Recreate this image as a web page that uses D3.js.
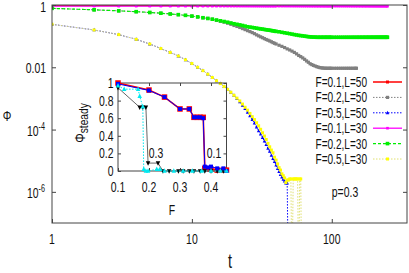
<!DOCTYPE html>
<html>
<head>
<meta charset="utf-8">
<script src="https://cdn.jsdelivr.net/npm/d3@7"></script>
<style>
html, body { margin: 0; padding: 0; background: #fff; }
svg { display: block; font-family: "Liberation Sans", Arial, sans-serif; }
</style>
</head>
<body>
<div id="chart"></div>
<script>
// ---- data ----
// time grids (every step early, sparser later where the points merge into a band)
const tL50 = [1,2,3,4,5,6,7,8,9,10,11,12,13,14,15,16,17,18,19,20,
  21,22,23,24,25,26,27,28,29,30,31,32,33,34,35,36,37,38,39,40,
  42,44,46,48,50,52,54,56,58,60,62,64,66,68,70,72,74,76,78,80,82,84,86,88,90,92,94,96,98,100,
  104,108,112,116,120,124,128,132,136,140,144,148,150];
const tL30 = [1,2,3,4,5,6,7,8,9,10,11,12,13,14,15,16,17,18,19,20,
  21,22,23,24,25,26,27,28,29,30,31,32,33,34,35,36,37,38,39,40,
  42,44,46,48,50,52,54,56,58,60,62,64,66,68,70,72,74,76,78,80,82,84,86,88,90,92,94,96,98,100,
  104,108,112,116,120,124,128,132,136,140,144,148,152,156,160,164,168,172,176,180,184,188,192,196,
  200,204,208,212,216,220,224,228,232,236,240,244,248,250];
const tF05 = [1,2,3,4,5,6,7,8,9,10,11,12,13,14,15,16,17,18,19,20,
  21,22,23,24,25,26,27,28,29,30,31,32,33,34,35,36,37,38,39,40,
  41,42,43,44,45,46,47,48,49,50,51,52,53,54,55,56,57,58,59,60,61];

const phiF01L50 = [0.97,0.97,0.97,0.97,0.97,0.97,0.97,0.97,0.97,0.97,0.97,0.97,0.97,0.97,0.97,0.97,0.97,0.97,0.97,0.97,
  0.97,0.97,0.97,0.97,0.97,0.97,0.97,0.97,0.97,0.97,0.97,0.97,0.97,0.97,0.97,0.97,0.97,0.97,0.97,0.97,
  0.97,0.97,0.97,0.97,0.97,0.97,0.97,0.97,0.97,0.97,0.97,0.97,0.97,0.97,0.97,0.97,0.97,0.97,0.97,0.97,0.97,0.97,0.97,0.97,0.97,0.97,0.97,0.97,0.97,0.97,
  0.97,0.97,0.97,0.97,0.97,0.97,0.97,0.97,0.97,0.97,0.97,0.97,0.97];
const phiF02L50 = [0.78,0.70,0.65,0.61,0.575,0.545,0.515,0.49,0.465,0.44,0.415,0.39,0.37,0.35,0.32,0.30,0.28,0.26,0.24,0.22,
  0.205,0.19,0.175,0.162,0.15,0.14,0.13,0.12,0.11,0.102,0.095,0.089,0.083,0.078,0.074,0.070,0.066,0.062,0.059,0.056,
  0.051,0.047,0.043,0.039,0.036,0.033,0.030,0.027,0.024,0.022,0.020,0.018,0.016,0.0145,0.013,0.0122,0.0115,0.011,0.0105,0.0101,0.0098,0.0096,0.0095,0.0094,0.0093,0.0093,0.0093,0.0093,0.0093,0.0093,
  0.0093,0.0093,0.0093,0.0093,0.0093,0.0093,0.0093,0.0093,0.0093,0.0093,0.0093,0.0093,0.0093];
const phiF05L50 = [0.24,0.158,0.112,0.079,0.056,0.040,0.030,0.023,0.0174,0.0132,0.0100,0.0078,0.0060,0.0047,0.0037,0.0030,0.0024,0.00195,0.00158,0.00126,
  9.8e-4,7.8e-4,6.0e-4,4.7e-4,3.6e-4,2.75e-4,2.1e-4,1.6e-4,1.2e-4,9.1e-5,7.1e-5,5.5e-5,4.3e-5,3.3e-5,2.5e-5,2.0e-5,1.5e-5,1.17e-5,9.3e-6,7.2e-6,
  5.6e-6,4.5e-6,3.6e-6,3.0e-6,2.5e-6,2.2e-6,1.9e-6,1.9e-6,1e-9];
const phiF01L30 = [0.92,0.92,0.92,0.92,0.92,0.92,0.92,0.92,0.92,0.92,0.92,0.92,0.92,0.92,0.92,0.92,0.92,0.92,0.92,0.92,
  0.92,0.92,0.92,0.92,0.92,0.92,0.92,0.92,0.92,0.92,0.92,0.92,0.92,0.92,0.92,0.92,0.92,0.92,0.92,0.92,
  0.92,0.92,0.92,0.92,0.92,0.92,0.92,0.92,0.92,0.92,0.92,0.92,0.92,0.92,0.92,0.92,0.92,0.92,0.92,0.92,0.92,0.92,0.92,0.92,0.92,0.92,0.92,0.92,0.92,0.92,
  0.92,0.92,0.92,0.92,0.92,0.92,0.92,0.92,0.92,0.92,0.92,0.92,0.92,0.92,0.92,0.92,0.92,0.92,0.92,0.92,0.92,0.92,0.92,0.92,
  0.92,0.92,0.92,0.92,0.92,0.92,0.92,0.92,0.92,0.92,0.92,0.92,0.92,0.92];
const phiF02L30 = [0.78,0.70,0.65,0.61,0.575,0.545,0.515,0.49,0.465,0.44,0.415,0.39,0.37,0.35,0.33,0.31,0.295,0.28,0.265,0.25,
  0.24,0.23,0.22,0.21,0.20,0.195,0.19,0.185,0.18,0.175,0.171,0.168,0.164,0.16,0.157,0.155,0.151,0.148,0.145,0.142,
  0.138,0.133,0.128,0.124,0.12,0.116,0.112,0.109,0.106,0.104,0.102,0.10,0.098,0.096,0.095,0.094,0.093,0.093,0.092,0.092,0.092,0.092,0.092,0.092,0.092,0.092,0.092,0.092,0.092,0.092,
  0.092,0.092,0.092,0.092,0.092,0.092,0.092,0.092,0.092,0.092,0.092,0.092,0.092,0.092,0.092,0.092,0.092,0.092,0.092,0.092,0.092,0.092,0.092,0.092,
  0.092,0.092,0.092,0.092,0.092,0.092,0.092,0.092,0.092,0.092,0.092,0.092,0.092,0.092];
const phiF05L30 = [0.24,0.158,0.112,0.079,0.056,0.040,0.030,0.023,0.0174,0.0132,0.0100,0.0078,0.0060,0.0047,0.0037,0.0030,0.0024,0.00195,0.00158,0.00126,
  0.00102,8.3e-4,6.6e-4,5.2e-4,4.2e-4,3.3e-4,2.6e-4,2.1e-4,1.66e-4,1.32e-4,1.02e-4,7.9e-5,6.2e-5,4.8e-5,3.6e-5,2.8e-5,2.2e-5,1.8e-5,1.3e-5,1.05e-5,
  7.9e-6,6.0e-6,5.0e-6,3.8e-6,3.3e-6,2.8e-6,2.0e-6,2.4e-6,2.4e-6,2.6e-6,2.6e-6,1e-9,2.6e-6,2.6e-6,2.6e-6,2.6e-6,2.6e-6,1e-9,2.6e-6,2.6e-6,1e-9];

// inset: steady-state density against F
const fRed = [0.10,0.20,0.25,0.30,0.33,0.345,0.355,0.365,0.375,0.38,0.39,0.40,0.42,0.44,0.45];
const steadyRed = [1.0,0.92,0.84,0.705,0.705,0.61,0.61,0.61,0.61,0.03,0.02,0.02,0.01,0.01,0.01];
const fBlue = [0.10,0.20,0.25,0.30,0.33,0.345,0.355,0.365,0.375,0.38,0.39,0.40,0.42,0.44,0.45];
const steadyBlue = [0.99,0.915,0.84,0.705,0.705,0.61,0.61,0.61,0.60,0.05,0.04,0.05,0.03,0.03,0.0];
const fBlack = [0.10,0.17,0.18,0.19,0.197,0.229,0.245,0.265,0.295,0.31,0.33,0.345,0.365,0.38,0.40,0.42,0.44];
const steadyBlack = [0.946,0.724,0.724,0.724,0.09,0.09,0,0,0,0,0,0,0,0,0,0,0];
const fCyan = [0.10,0.12,0.165,0.17,0.18,0.183,0.19,0.197,0.225,0.235,0.25,0.28,0.31,0.34,0.37,0.40,0.43,0.45];
const steadyCyan = [0.97,0.93,0.93,0.85,0.73,0.02,0.0,0.0,0.02,0.02,0,0,0,0,0,0,0,0];

const yTicks = [1, 1e-2, 1e-4, 1e-6];
const yTickText = [['1'], ['0.01'], ['10', '-4'], ['10', '-6']];
const xTicks = [1, 10, 100];
const insetXTicks = [0.1, 0.2, 0.3, 0.4];
const insetYTicks = [0, 0.2, 0.4, 0.6, 0.8, 1];

const legendNames = ['F=0.1,L=50', 'F=0.2,L=50', 'F=0.5,L=50', 'F=0.1,L=30', 'F=0.2,L=30', 'F=0.5,L=30'];

// ---- layout ----
const W = 409, H = 273;
const svg = d3.select('#chart').append('svg').attr('width', W).attr('height', H);

const x = d3.scaleLog().domain([1, 345]).range([52, 407]);
const y = d3.scaleLog().domain([1e-7, 1]).range([223, 5]);

const axisColor = '#444';
const SX = 0.72; // the original font is condensed

function label(g, px, py, parts, opt = {}) {
  const t = g.append('text')
    .attr('transform', `translate(${px},${py}) scale(${opt.sx || SX},1)`)
    .attr('text-anchor', opt.anchor || 'middle')
    .attr('font-size', opt.size || 14.5)
    .attr('fill', '#111');
  t.append('tspan').text(parts[0]);
  if (parts.length > 1) {
    t.append('tspan').attr('font-size', 10).attr('dy', -6).text(parts[1]);
  }
  return t;
}

function marker(g, type, cx, cy, s, color) {
  if (type === 'square') {
    g.append('rect').attr('x', cx - s / 2).attr('y', cy - s / 2).attr('width', s).attr('height', s)
      .attr('fill', color);
  } else if (type === 'tri') {
    g.append('path').attr('d', `M${cx},${cy - s * 0.6}L${cx + s / 2},${cy + s * 0.4}L${cx - s / 2},${cy + s * 0.4}Z`)
      .attr('fill', color);
  } else if (type === 'tridown') {
    g.append('path').attr('d', `M${cx},${cy + s * 0.6}L${cx + s / 2},${cy - s * 0.4}L${cx - s / 2},${cy - s * 0.4}Z`)
      .attr('fill', color);
  }
}

function drawSeries(g, xs, ys, xs_, ys_, st) {
  const pts = xs.map((v, i) => [xs_(v), ys_(ys[i])]);
  g.append('path').attr('d', d3.line()(pts))
    .attr('fill', 'none').attr('stroke', st.line || st.color)
    .attr('stroke-width', st.width || 1)
    .attr('stroke-dasharray', st.dash || null);
  pts.forEach(p => marker(g, st.marker, p[0], p[1], st.size || 3, st.color));
}

// ---- main plot ----
svg.append('clipPath').attr('id', 'clipMain').append('rect')
  .attr('x', 52).attr('y', 5).attr('width', 355).attr('height', 218);

const styles = [
  { color: '#ff0000', marker: 'square', width: 1.5, size: 3 },
  { color: '#808080', marker: 'square', width: 1, dash: '1.5,1.5', size: 3.2 },
  { color: '#0000ff', marker: 'tri', width: 1, dash: '1.5,1.5', size: 3.5 },
  { color: '#ff00ff', marker: 'square', width: 1.3, size: 2.6 },
  { color: '#00ee00', marker: 'square', width: 1.2, dash: '3,2', size: 3.6 },
  { color: '#ffff00', marker: 'square', width: 1, dash: '1.5,1.5', line: '#e0e070', size: 3 }
];
const series = [
  [tL50, phiF01L50], [tL50, phiF02L50], [tF05.slice(0, phiF05L50.length), phiF05L50],
  [tL30, phiF01L30], [tL30, phiF02L30], [tF05, phiF05L30]
];

const plot = svg.append('g').attr('clip-path', 'url(#clipMain)');
series.forEach((s, i) => drawSeries(plot, s[0], s[1], x, y, styles[i]));

// frame + ticks
svg.append('rect').attr('x', 52).attr('y', 5).attr('width', 355).attr('height', 218)
  .attr('fill', 'none').attr('stroke', axisColor).attr('stroke-width', 1);

const axB = svg.append('g').attr('transform', 'translate(0,223)')
  .call(d3.axisBottom(x).tickValues(xTicks).tickSize(-4).tickFormat(''));
const axT = svg.append('g').attr('transform', 'translate(0,5)')
  .call(d3.axisTop(x).tickValues(xTicks).tickSize(-4).tickFormat(''));
const axL = svg.append('g').attr('transform', 'translate(52,0)')
  .call(d3.axisLeft(y).tickValues(yTicks).tickSize(-4).tickFormat(''));
const axR = svg.append('g').attr('transform', 'translate(407,0)')
  .call(d3.axisRight(y).tickValues(yTicks).tickSize(-4).tickFormat(''));
[axB, axT, axL, axR].forEach(a => {
  a.select('.domain').remove();
  a.selectAll('line').attr('stroke', axisColor);
});

xTicks.forEach(v => label(svg, x(v), 244, [String(v)]));
yTicks.forEach((v, i) => {
  const parts = yTickText[i];
  if (parts.length > 1) label(svg, 36, y(v) + 6, parts);
  else label(svg, 46, Math.max(y(v) + 5.5, 11.5), parts, { anchor: 'end' });
});

label(svg, 7, 121, ['Φ'], { size: 15 });
label(svg, 230, 268, ['t'], { size: 20 });
label(svg, 345, 197, ['p=0.3']);

// legend
legendNames.forEach((name, i) => {
  const cy = 82 + i * 15.4;
  label(svg, 367, cy + 5, [name], { anchor: 'end', size: 14 });
  const st = styles[i];
  svg.append('line').attr('x1', 373).attr('x2', 402).attr('y1', cy).attr('y2', cy)
    .attr('stroke', st.line || st.color).attr('stroke-width', st.width || 1)
    .attr('stroke-dasharray', st.dash || null);
  marker(svg, st.marker, 387.5, cy, st.size, st.color);
});

// ---- inset ----
const ix = d3.scaleLinear().domain([0.1, 0.45]).range([118, 226.5]);
const iy = d3.scaleLinear().domain([0, 1]).range([171, 83]);
const inset = svg.append('g');

inset.append('rect').attr('x', 118).attr('y', 83).attr('width', 108.5).attr('height', 88)
  .attr('fill', 'none').attr('stroke', axisColor).attr('stroke-width', 1);
const iB = inset.append('g').attr('transform', 'translate(0,171)')
  .call(d3.axisBottom(ix).tickValues(insetXTicks).tickSize(-3).tickFormat(''));
const iT = inset.append('g').attr('transform', 'translate(0,83)')
  .call(d3.axisTop(ix).tickValues(insetXTicks).tickSize(-3).tickFormat(''));
const iL = inset.append('g').attr('transform', 'translate(118,0)')
  .call(d3.axisLeft(iy).tickValues(insetYTicks).tickSize(-3).tickFormat(''));
const iR = inset.append('g').attr('transform', 'translate(226.5,0)')
  .call(d3.axisRight(iy).tickValues(insetYTicks).tickSize(-3).tickFormat(''));
[iB, iT, iL, iR].forEach(a => {
  a.select('.domain').remove();
  a.selectAll('line').attr('stroke', axisColor);
});

insetXTicks.forEach(v => label(inset, ix(v), 192, [String(v)]));
insetYTicks.forEach(v => label(inset, 113.5, iy(v) + 5, [String(v)], { anchor: 'end' }));

const yl = inset.append('text')
  .attr('transform', 'translate(85,123) rotate(-90) scale(0.85,1)')
  .attr('text-anchor', 'middle').attr('font-size', 14).attr('fill', '#111');
yl.append('tspan').text('Φ');
yl.append('tspan').attr('font-size', 12).attr('dy', 3).text('steady');

label(inset, 172, 215, ['F']);

drawSeries(inset, fRed, steadyRed, ix, iy, { color: '#ff0000', marker: 'square', width: 1.6, size: 5.5 });
drawSeries(inset, fBlack, steadyBlack, ix, iy, { color: '#000000', line: '#666', marker: 'tridown', width: 1, size: 4.5 });
drawSeries(inset, fBlue, steadyBlue, ix, iy, { color: '#0000ff', marker: 'square', width: 1, size: 4 });
drawSeries(inset, fCyan, steadyCyan, ix, iy, { color: '#00e8f0', marker: 'tri', width: 1, dash: '1.5,1.5', size: 4.5 });

label(inset, 156, 158, ['0.3']);
label(inset, 214, 158, ['0.1']);
</script>
</body>
</html>
